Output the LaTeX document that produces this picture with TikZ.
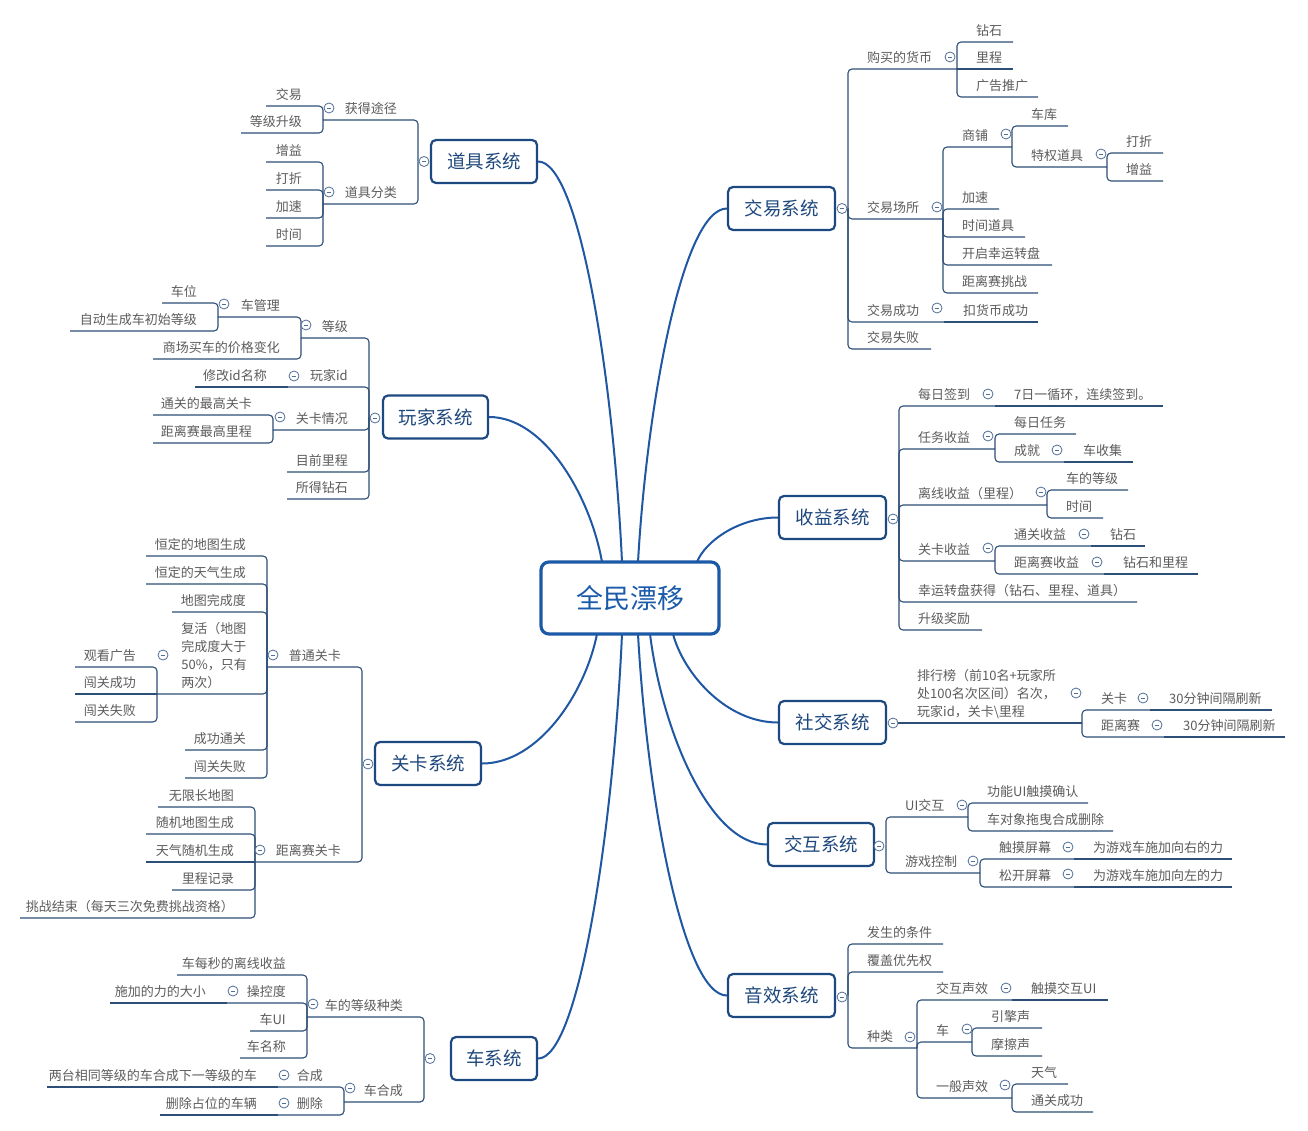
\documentclass[tikz,border=0pt]{standalone}
\usepackage{fontspec}
\newfontfamily\cjk{Noto Sans CJK SC}
\definecolor{lnc}{RGB}{45,78,118}
\definecolor{mainc}{RGB}{31,87,163}
\definecolor{boxc}{RGB}{30,72,128}
\definecolor{txtc}{RGB}{92,92,92}
\definecolor{maintxt}{RGB}{30,72,125}
\definecolor{roottxt}{RGB}{26,90,170}
\definecolor{rootbd}{RGB}{28,90,168}
\definecolor{collc}{RGB}{80,110,150}
\pgfdeclarelayer{curvelayer}
\pgfsetlayers{curvelayer,main}
\tikzset{
 leaf/.style={inner sep=0pt, text=txtc, font=\cjk\fontsize{13pt}{16pt}\selectfont},
 leafml/.style={inner sep=0pt, text=txtc, align=left, font=\cjk\fontsize{13pt}{18.2pt}\selectfont},
 ln/.style={draw=lnc, line width=1.1pt, rounded corners=4pt},
 curve/.style={draw=mainc, line width=2pt},
 mainbox/.style={draw=boxc, fill=white, line width=2.2pt, rounded corners=5pt, minimum height=43pt, text=maintxt, font=\cjk\fontsize{18.5pt}{22pt}\selectfont, inner sep=0pt},
 rootbox/.style={draw=rootbd, fill=white, line width=3.2pt, rounded corners=8pt, minimum width=178pt, minimum height=72pt, text=roottxt, font=\cjk\fontsize{27pt}{32pt}\selectfont, inner sep=0pt},
 coll/.style={circle, draw=collc, fill=white, line width=0.8pt, minimum size=10pt, inner sep=0pt,
   path picture={\draw[collc, line width=0.8pt] ([xshift=-2.4pt]path picture bounding box.center) -- ([xshift=2.4pt]path picture bounding box.center);}}
}
\newcommand\TopR[5]{\coordinate (#1-l) at (#2,#4); \coordinate (#1-r) at (#3,#4); \node[leaf,anchor=base west] (#1) at (#2+19,#4-6.5) {#5};}
\newcommand\TopL[5]{\coordinate (#1-l) at (#2,#4); \coordinate (#1-r) at (#3,#4); \node[leaf,anchor=base east] (#1) at (#3-21,#4-6.5) {#5};}
\newcommand\Lk[2]{\draw[ln] (#1) |- (#2);}
\newcommand\Lks[2]{\draw[ln] (#1) -- (#2);}
\newcommand\Cc[3]{\node[coll] (#1) at (#2,#3) {};}
\begin{document}
\begin{tikzpicture}[x=1pt,y=-1pt]
\begin{pgfonlayer}{curvelayer}
\fill[white] (0,0) rectangle (1308,1131);
\end{pgfonlayer}
\useasboundingbox (0,0) rectangle (1308,1131);

% ---------- root and main topics ----------
\node[rootbox] (root) at (630,598) {全民漂移};
\coordinate (r-dj) at (622,562);
\coordinate (r-wj) at (602,562);
\coordinate (r-jy) at (638,562);
\coordinate (r-sy) at (697,562);
\coordinate (r-gk) at (597,634);
\coordinate (r-ch) at (622,634);
\coordinate (r-yx) at (638,634);
\coordinate (r-hd) at (650,634);
\coordinate (r-sj) at (673,634);

\node[mainbox, minimum width=106pt] (dj) at (484,161.5) {道具系统};
\node[mainbox, minimum width=105pt] (wj) at (435.5,417) {玩家系统};
\node[mainbox, minimum width=106pt] (gk) at (428,763.5) {关卡系统};
\node[mainbox, minimum width=86pt] (ch) at (494,1058.5) {车系统};
\node[mainbox, minimum width=107pt] (jy) at (781.5,208.5) {交易系统};
\node[mainbox, minimum width=107pt] (sy) at (832.5,517.5) {收益系统};
\node[mainbox, minimum width=107pt] (sj) at (832.5,722.5) {社交系统};
\node[mainbox, minimum width=106pt] (hd) at (821,844.5) {交互系统};
\node[mainbox, minimum width=107pt] (yx) at (781.5,995.5) {音效系统};

\begin{pgfonlayer}{curvelayer}
\draw[curve] (r-dj) .. controls (613.6,382.5) and (580,161.5) .. (dj.east);
\draw[curve] (r-wj) .. controls (590.6,497.2) and (545,417) .. (wj.east);
\draw[curve] (r-jy) .. controls (647,403) and (683,208.5) .. (jy.west);
\draw[curve] (r-sy) .. controls (705,541.75) and (738,517.5) .. (sy.west);
\draw[curve] (r-gk) .. controls (585.4,692.5) and (539,763.5) .. (gk.east);
\draw[curve] (r-ch) .. controls (613.5,824.8) and (579.5,1058.5) .. (ch.east);
\draw[curve] (r-yx) .. controls (647,797) and (683,995.5) .. (yx.west);
\draw[curve] (r-hd) .. controls (661.8,729) and (709,844.5) .. (hd.west);
\draw[curve] (r-sj) .. controls (683.6,673.6) and (726,722.5) .. (sj.west);
\end{pgfonlayer}

% ---------- 交易系统 ----------
\coordinate (jy-v) at (848,208.5);
\TopR{jy1}{848}{957}{69}{购买的货币}
\TopR{jy11}{957}{1013}{42}{钻石}
\TopR{jy12}{957}{1013}{69}{里程}
\TopR{jy13}{957}{1038}{97}{广告推广}
\TopR{jy2}{848}{943}{219}{交易场所}
\TopR{jy21}{943}{1012}{147}{商铺}
\TopR{jy211}{1012}{1068}{126}{车库}
\TopR{jy212}{1012}{1107}{167}{特权道具}
\TopR{jy2121}{1107}{1163}{153}{打折}
\TopR{jy2122}{1107}{1163}{181}{增益}
\TopR{jy22}{943}{999}{209}{加速}
\TopR{jy23}{943}{1025}{237}{时间道具}
\TopR{jy24}{943}{1052}{265}{开启幸运转盘}
\TopR{jy25}{943}{1038}{293}{距离赛挑战}
\TopR{jy3}{848}{944}{322}{交易成功}
\TopR{jy31}{944}{1038}{322}{扣货币成功}
\TopR{jy4}{848}{931}{349}{交易失败}
\Lk{jy-v}{jy1-r} \Lk{jy-v}{jy2-r} \Lk{jy-v}{jy3-r} \Lk{jy-v}{jy4-r}
\Lk{jy1-r}{jy11-r} \Lks{jy1-r}{jy12-r} \Lk{jy1-r}{jy13-r}
\Lk{jy2-r}{jy21-r} \Lk{jy2-r}{jy22-r} \Lk{jy2-r}{jy23-r} \Lk{jy2-r}{jy24-r} \Lk{jy2-r}{jy25-r}
\Lk{jy21-r}{jy211-r} \Lk{jy21-r}{jy212-r}
\Lk{jy212-r}{jy2121-r} \Lk{jy212-r}{jy2122-r}
\Lks{jy3-r}{jy31-r}

% ---------- 收益系统 ----------
\coordinate (sy-v) at (899,517.5);
\TopR{sy1}{899}{995}{406}{每日签到}
\TopR{sy11}{995}{1163}{406}{7日一循环，连续签到。}
\TopR{sy2}{899}{995}{449}{任务收益}
\TopR{sy21}{995}{1076}{434}{每日任务}
\TopR{sy22}{995}{1064}{462}{成就}
\TopR{sy221}{1064}{1133}{462}{车收集}
\TopR{sy3}{899}{1047}{505}{离线收益（里程）}
\TopR{sy31}{1047}{1128}{490}{车的等级}
\TopR{sy32}{1047}{1103}{518}{时间}
\TopR{sy4}{899}{995}{561}{关卡收益}
\TopR{sy41}{995}{1091}{546}{通关收益}
\TopR{sy411}{1091}{1145}{546}{钻石}
\TopR{sy42}{995}{1104}{574}{距离赛收益}
\TopR{sy421}{1104}{1198}{574}{钻石和里程}
\TopR{sy5}{899}{1137}{602}{幸运转盘获得（钻石、里程、道具）}
\TopR{sy6}{899}{982}{630}{升级奖励}
\Lk{sy-v}{sy1-r} \Lk{sy-v}{sy2-r} \Lk{sy-v}{sy3-r} \Lk{sy-v}{sy4-r} \Lk{sy-v}{sy5-r} \Lk{sy-v}{sy6-r}
\Lks{sy1-r}{sy11-r}
\Lk{sy2-r}{sy21-r} \Lk{sy2-r}{sy22-r} \Lks{sy22-r}{sy221-r}
\Lk{sy3-r}{sy31-r} \Lk{sy3-r}{sy32-r}
\Lk{sy4-r}{sy41-r} \Lk{sy4-r}{sy42-r}
\Lks{sy41-r}{sy411-r} \Lks{sy42-r}{sy421-r}

% ---------- 社交系统 ----------
\coordinate (sj-v) at (897,723);
\coordinate (sj1-l) at (899,723);
\coordinate (sj1-r) at (1082,723);
\node[leafml, anchor=west] (sj1) at (917,694) {排行榜（前10名+玩家所\\处100名次区间）名次，\\玩家id，关卡\textbackslash 里程};
\TopR{sj11}{1082}{1150}{710}{关卡}
\TopR{sj111}{1150}{1272}{710}{30分钟间隔刷新}
\TopR{sj12}{1082}{1164}{737}{距离赛}
\TopR{sj121}{1164}{1285}{737}{30分钟间隔刷新}
\Lks{sj-v}{sj1-r}
\Lk{sj1-r}{sj11-r} \Lk{sj1-r}{sj12-r}
\Lks{sj11-r}{sj111-r} \Lks{sj12-r}{sj121-r}

% ---------- 交互系统 ----------
\coordinate (hd-v) at (886,844.5);
\TopR{hd1}{886}{968}{817}{UI交互}
\TopR{hd11}{968}{1088}{803}{功能UI触摸确认}
\TopR{hd12}{968}{1113}{831}{车对象拖曳合成删除}
\TopR{hd2}{886}{980}{873}{游戏控制}
\TopR{hd21}{980}{1074}{859}{触摸屏幕}
\TopR{hd211}{1074}{1232}{859}{为游戏车施加向右的力}
\TopR{hd22}{980}{1074}{887}{松开屏幕}
\TopR{hd221}{1074}{1232}{887}{为游戏车施加向左的力}
\Lk{hd-v}{hd1-r} \Lk{hd-v}{hd2-r}
\Lk{hd1-r}{hd11-r} \Lk{hd1-r}{hd12-r}
\Lk{hd2-r}{hd21-r} \Lk{hd2-r}{hd22-r}
\Lks{hd21-r}{hd211-r} \Lks{hd22-r}{hd221-r}

% ---------- 音效系统 ----------
\coordinate (yx-v) at (848,995.5);
\TopR{yx1}{848}{943}{944}{发生的条件}
\TopR{yx2}{848}{943}{972}{覆盖优先权}
\TopR{yx3}{848}{917}{1048}{种类}
\TopR{yx31}{917}{1012}{1000}{交互声效}
\TopR{yx311}{1012}{1108}{1000}{触摸交互UI}
\TopR{yx32}{917}{972}{1042}{车}
\TopR{yx321}{972}{1042}{1028}{引擎声}
\TopR{yx322}{972}{1042}{1056}{摩擦声}
\TopR{yx33}{917}{1012}{1098}{一般声效}
\TopR{yx331}{1012}{1068}{1084}{天气}
\TopR{yx332}{1012}{1093}{1112}{通关成功}
\Lk{yx-v}{yx1-r} \Lk{yx-v}{yx2-r} \Lk{yx-v}{yx3-r}
\Lk{yx3-r}{yx31-r} \Lk{yx3-r}{yx32-r} \Lk{yx3-r}{yx33-r}
\Lks{yx31-r}{yx311-r}
\Lk{yx32-r}{yx321-r} \Lk{yx32-r}{yx322-r}
\Lk{yx33-r}{yx331-r} \Lk{yx33-r}{yx332-r}

% ---------- 道具系统 ----------
\coordinate (dj-v) at (418,161.5);
\TopL{dj1}{323}{418}{120}{获得途径}
\TopL{dj11}{266}{323}{106}{交易}
\TopL{dj12}{241}{323}{133}{等级升级}
\TopL{dj2}{323}{418}{204}{道具分类}
\TopL{dj21}{266}{323}{162}{增益}
\TopL{dj22}{266}{323}{190}{打折}
\TopL{dj23}{266}{323}{218}{加速}
\TopL{dj24}{266}{323}{246}{时间}
\Lk{dj-v}{dj1-l} \Lk{dj-v}{dj2-l}
\Lk{dj1-l}{dj11-l} \Lk{dj1-l}{dj12-l}
\Lk{dj2-l}{dj21-l} \Lk{dj2-l}{dj22-l} \Lk{dj2-l}{dj23-l} \Lk{dj2-l}{dj24-l}

% ---------- 玩家系统 ----------
\coordinate (wj-v) at (369,417);
\TopL{wj1}{301}{369}{338}{等级}
\TopL{wj11}{218}{301}{317}{车管理}
\TopL{wj111}{162}{218}{303}{车位}
\TopL{wj112}{70}{218}{331}{自动生成车初始等级}
\TopL{wj12}{153}{301}{359}{商场买车的价格变化}
\TopL{wj2}{288}{369}{387}{玩家id}
\TopL{wj21}{195}{288}{387}{修改id名称}
\TopL{wj3}{273}{369}{430}{关卡情况}
\TopL{wj31}{153}{273}{415}{通关的最高关卡}
\TopL{wj32}{153}{273}{443}{距离赛最高里程}
\TopL{wj4}{287}{369}{472}{目前里程}
\TopL{wj5}{287}{369}{499}{所得钻石}
\Lk{wj-v}{wj1-l} \Lk{wj-v}{wj2-l} \Lk{wj-v}{wj3-l} \Lk{wj-v}{wj4-l} \Lk{wj-v}{wj5-l}
\Lk{wj1-l}{wj11-l} \Lk{wj1-l}{wj12-l}
\Lk{wj11-l}{wj111-l} \Lk{wj11-l}{wj112-l}
\Lks{wj2-l}{wj21-l}
\Lk{wj3-l}{wj31-l} \Lk{wj3-l}{wj32-l}

% ---------- 关卡系统 ----------
\coordinate (gk-v) at (362,763.5);
\TopL{gk1}{267}{362}{667}{普通关卡}
\TopL{gk11}{146}{267}{556}{恒定的地图生成}
\TopL{gk12}{146}{267}{584}{恒定的天气生成}
\TopL{gk13}{172}{267}{612}{地图完成度}
\coordinate (gk14-l) at (157,694);
\coordinate (gk14-r) at (267,694);
\node[leafml, anchor=east] (gk14) at (247,655.5) {复活（地图\\完成度大于\\50\%，只有\\两次）};
\TopL{gk141}{75}{157}{667}{观看广告}
\TopL{gk142}{75}{157}{694}{闯关成功}
\TopL{gk143}{75}{157}{722}{闯关失败}
\TopL{gk15}{185}{267}{750}{成功通关}
\TopL{gk16}{185}{267}{778}{闯关失败}
\TopL{gk2}{255}{362}{862}{距离赛关卡}
\TopL{gk21}{158}{255}{807}{无限长地图}
\TopL{gk22}{146}{255}{834}{随机地图生成}
\TopL{gk23}{146}{255}{862}{天气随机生成}
\TopL{gk24}{172}{255}{890}{里程记录}
\TopL{gk25}{20}{255}{918}{挑战结束（每天三次免费挑战资格）}
\Lk{gk-v}{gk1-l} \Lk{gk-v}{gk2-l}
\Lk{gk1-l}{gk11-l} \Lk{gk1-l}{gk12-l} \Lk{gk1-l}{gk13-l} \Lk{gk1-l}{gk14-l} \Lk{gk1-l}{gk15-l} \Lk{gk1-l}{gk16-l}
\Lk{gk14-l}{gk141-l} \Lks{gk14-l}{gk142-l} \Lk{gk14-l}{gk143-l}
\Lk{gk2-l}{gk21-l} \Lk{gk2-l}{gk22-l} \Lks{gk2-l}{gk23-l} \Lk{gk2-l}{gk24-l} \Lk{gk2-l}{gk25-l}

% ---------- 车系统 ----------
\coordinate (ch-v) at (424,1058.5);
\TopL{ch1}{307}{424}{1017}{车的等级种类}
\TopL{ch11}{177}{307}{975}{车每秒的离线收益}
\TopL{ch12}{227}{307}{1003}{操控度}
\TopL{ch121}{110}{227}{1003}{施加的力的大小}
\TopL{ch13}{250}{307}{1031}{车UI}
\TopL{ch14}{240}{307}{1058}{车名称}
\TopL{ch2}{344}{424}{1102}{车合成}
\TopL{ch21}{278}{344}{1087}{合成}
\TopL{ch211}{47}{278}{1087}{两台相同等级的车合成下一等级的车}
\TopL{ch22}{278}{344}{1115}{删除}
\TopL{ch221}{160}{278}{1115}{删除占位的车辆}
\Lk{ch-v}{ch1-l} \Lk{ch-v}{ch2-l}
\Lk{ch1-l}{ch11-l} \Lk{ch1-l}{ch12-l} \Lk{ch1-l}{ch13-l} \Lk{ch1-l}{ch14-l}
\Lks{ch12-l}{ch121-l}
\Lk{ch2-l}{ch21-l} \Lk{ch2-l}{ch22-l}
\Lks{ch21-l}{ch211-l} \Lks{ch22-l}{ch221-l}

% ---------- collapse circles ----------
\Cc{jy-c}{842}{208.5} \Cc{jy1-c}{950}{57} \Cc{jy2-c}{937}{207} \Cc{jy21-c}{1006}{134} \Cc{jy212-c}{1101}{154} \Cc{jy3-c}{937}{308}
\Cc{sy-c}{893}{519} \Cc{sy1-c}{988}{394} \Cc{sy2-c}{988}{436} \Cc{sy22-c}{1057}{450} \Cc{sy3-c}{1041}{492} \Cc{sy4-c}{988}{548} \Cc{sy41-c}{1084}{534} \Cc{sy42-c}{1097}{562}
\Cc{sj-c}{893}{723} \Cc{sj1-c}{1076}{693} \Cc{sj11-c}{1143}{698} \Cc{sj12-c}{1157}{725}
\Cc{hd-c}{879}{846} \Cc{hd1-c}{962}{805} \Cc{hd2-c}{973}{861} \Cc{hd21-c}{1068}{847} \Cc{hd22-c}{1068}{874}
\Cc{yx-c}{842}{997} \Cc{yx3-c}{910}{1037} \Cc{yx31-c}{1006}{988} \Cc{yx32-c}{967}{1029} \Cc{yx33-c}{1005}{1085}
\Cc{dj-c}{424}{161.5} \Cc{dj1-c}{329}{108} \Cc{dj2-c}{329}{192}
\Cc{wj-c}{375}{418} \Cc{wj1-c}{306}{325} \Cc{wj11-c}{224}{304} \Cc{wj2-c}{294}{376} \Cc{wj3-c}{280}{417}
\Cc{gk-c}{368}{764} \Cc{gk1-c}{273}{655} \Cc{gk14-c}{163}{655} \Cc{gk2-c}{260}{850}
\Cc{ch-c}{430}{1058.5} \Cc{ch1-c}{313}{1004} \Cc{ch12-c}{233}{991} \Cc{ch2-c}{350}{1088} \Cc{ch21-c}{284}{1075} \Cc{ch22-c}{284}{1103}
\end{tikzpicture}
\end{document}
